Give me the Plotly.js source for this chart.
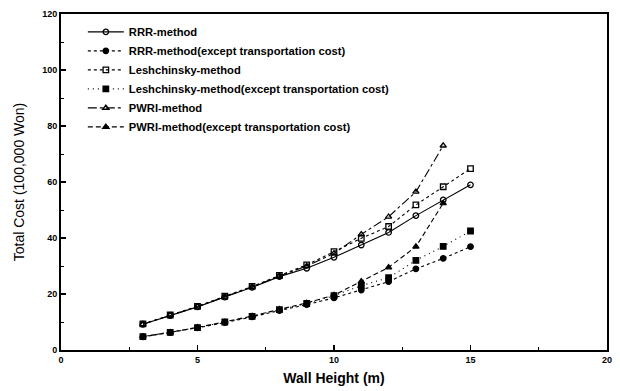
<!DOCTYPE html>
<html>
<head>
<meta charset="utf-8">
<script src="https://cdn.plot.ly/plotly-3.0.1.min.js"></script>
<style>
  html, body { margin: 0; padding: 0; background: #fff; }
  #chart { width: 620px; height: 391px; }
</style>
</head>
<body>
<div id="chart"></div>
<script>
// Wall heights (m)
const heights = [3, 4, 5, 6, 7, 8, 9, 10, 11, 12, 13, 14, 15];
const heightsPwri = [3, 4, 5, 6, 7, 8, 9, 10, 11, 12, 13, 14];

// Total cost (100,000 Won)
const rrr = [9.2, 12.3, 15.4, 18.9, 22.4, 26.2, 29.2, 33.1, 37.5, 42.0, 48.0, 53.6, 59.0];
const rrrExcept = [4.7, 6.2, 7.9, 9.8, 11.8, 14.1, 16.2, 18.6, 21.4, 24.4, 29.0, 32.7, 36.9];
const lesh = [9.3, 12.5, 15.6, 19.2, 22.7, 26.6, 30.4, 35.1, 39.9, 44.1, 51.8, 58.3, 64.8];
const leshExcept = [4.8, 6.3, 8.0, 10.0, 12.0, 14.4, 16.6, 19.4, 23.0, 25.8, 32.0, 37.0, 42.5];
const pwri = [9.2, 12.4, 15.5, 19.0, 22.5, 26.4, 30.0, 34.5, 41.3, 47.6, 56.5, 73.0];
const pwriExcept = [4.8, 6.3, 8.1, 10.0, 12.1, 14.5, 16.8, 19.6, 24.5, 29.5, 36.9, 52.4];

const names = [
  'RRR-method',
  'RRR-method(except transportation cost)',
  'Leshchinsky-method',
  'Leshchinsky-method(except transportation cost)',
  'PWRI-method',
  'PWRI-method(except transportation cost)'
];

function series(x, y, name, dash, symbol) {
  return {
    x: x, y: y, name: name, type: 'scatter', mode: 'lines+markers',
    line: { color: '#000', width: 1.1, dash: dash },
    marker: { symbol: symbol, size: 5.5, color: '#000',
              line: { color: '#000', width: 1.3 } }
  };
}

const traces = [
  series(heights, rrr, names[0], 'solid', 'circle-open'),
  series(heights, rrrExcept, names[1], 'dot', 'circle'),
  series(heights, lesh, names[2], 'dot', 'square-open'),
  series(heights, leshExcept, names[3], '1px,4px', 'square'),
  series(heightsPwri, pwri, names[4], 'dashdot', 'triangle-up-open'),
  series(heightsPwri, pwriExcept, names[5], '5px,3px', 'triangle-up')
];

const fam = 'Liberation Sans, Arial, sans-serif';
const tickFont = { family: fam, size: 9, color: '#000', weight: 'bold' };

const layout = {
  width: 620, height: 391,
  margin: { l: 61, r: 13, t: 14, b: 41 },
  paper_bgcolor: '#fff', plot_bgcolor: '#fff',
  showlegend: true,
  legend: {
    x: 0.04, y: 0.99, xanchor: 'left', yanchor: 'top',
    bgcolor: 'rgba(0,0,0,0)', borderwidth: 0, itemwidth: 36,
    font: { family: fam, size: 11.2, color: '#000', weight: 'bold' },
    tracegroupgap: 0
  },
  xaxis: {
    range: [0, 20], dtick: 5, tick0: 0,
    ticks: 'inside', ticklen: 5, tickwidth: 1.2, tickcolor: '#000',
    minor: { dtick: 2.5, ticks: 'inside', ticklen: 3, tickcolor: '#000', tickwidth: 1 },
    showgrid: false, zeroline: false,
    showline: true, linecolor: '#000', linewidth: 2, mirror: true,
    tickfont: tickFont,
    title: { text: 'Wall Height (m)', standoff: 9,
             font: { family: fam, size: 14, color: '#000', weight: 'bold' } }
  },
  yaxis: {
    range: [0, 120], dtick: 20, tick0: 0,
    ticks: 'inside', ticklen: 5, tickwidth: 1.2, tickcolor: '#000',
    minor: { dtick: 10, ticks: 'inside', ticklen: 3, tickcolor: '#000', tickwidth: 1 },
    showgrid: false, zeroline: false,
    showline: true, linecolor: '#000', linewidth: 2, mirror: true,
    tickfont: tickFont,
    title: { text: 'Total Cost (100,000 Won)', standoff: 14,
             font: { family: fam, size: 14, color: '#000' } }
  }
};

Plotly.newPlot('chart', traces, layout, { displayModeBar: false, staticPlot: true });
</script>
</body>
</html>
